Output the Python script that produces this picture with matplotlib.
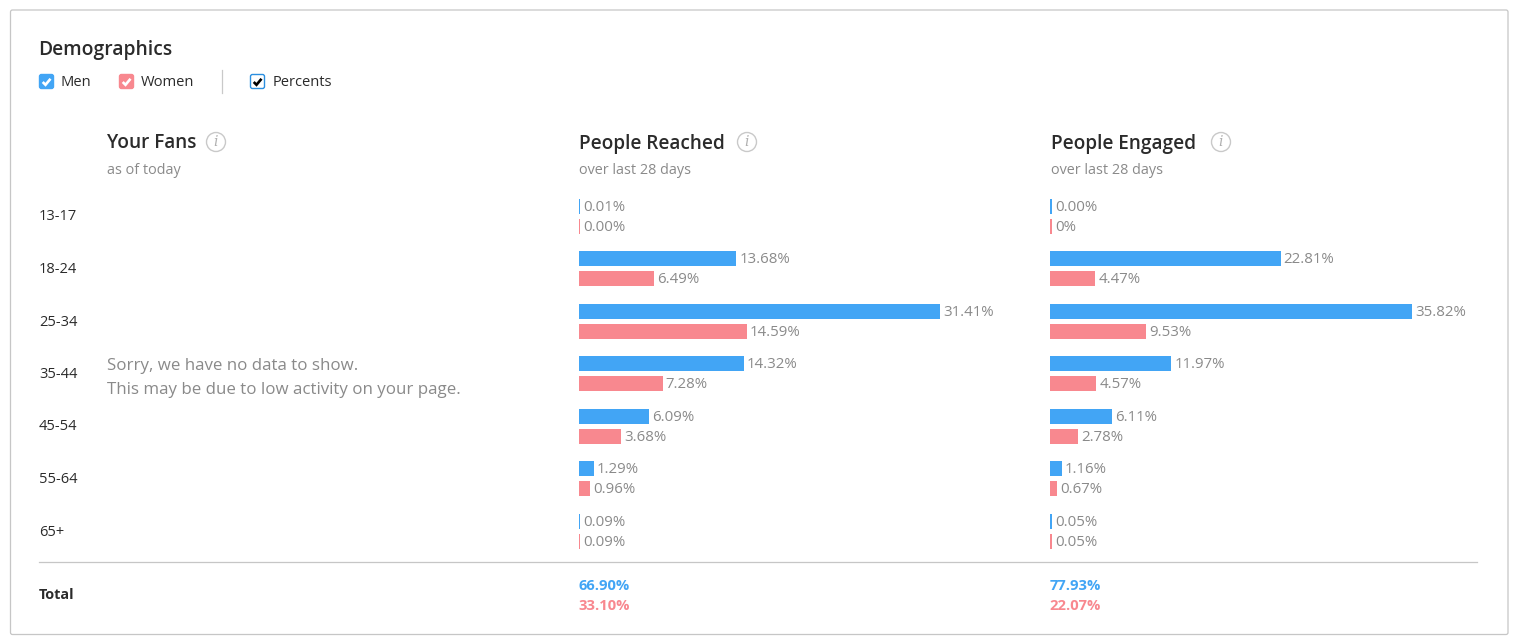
import matplotlib
matplotlib.use("Agg")
import matplotlib.pyplot as plt
from matplotlib.patches import FancyBboxPatch, Circle

plt.rcParams['font.family'] = ['Open Sans', 'DejaVu Sans']

age_groups = ['13-17', '18-24', '25-34', '35-44', '45-54', '55-64', '65+']
reached_men = [0.01, 13.68, 31.41, 14.32, 6.09, 1.29, 0.09]
reached_women = [0.00, 6.49, 14.59, 7.28, 3.68, 0.96, 0.09]
reached_men_labels = ['0.01%', '13.68%', '31.41%', '14.32%', '6.09%', '1.29%', '0.09%']
reached_women_labels = ['0.00%', '6.49%', '14.59%', '7.28%', '3.68%', '0.96%', '0.09%']
engaged_men = [0.00, 22.81, 35.82, 11.97, 6.11, 1.16, 0.05]
engaged_women = [0.00, 4.47, 9.53, 4.57, 2.78, 0.67, 0.05]
engaged_men_labels = ['0.00%', '22.81%', '35.82%', '11.97%', '6.11%', '1.16%', '0.05%']
engaged_women_labels = ['0%', '4.47%', '9.53%', '4.57%', '2.78%', '0.67%', '0.05%']
reached_totals = ['66.90%', '33.10%']
engaged_totals = ['77.93%', '22.07%']

BLUE = '#42a5f5'
PINK = '#f8888f'
DARK = '#2b2b2b'
GREY = '#8a8a8a'
W, H = 1516, 643

fig = plt.figure(figsize=(W / 100, H / 100), dpi=100, facecolor='white')
ov = fig.add_axes([0, 0, 1, 1])
ov.set_xlim(0, W)
ov.set_ylim(H, 0)
ov.axis('off')

ov.add_patch(FancyBboxPatch((10.5, 10), 1497.5, 624.5, boxstyle='round,pad=0,rounding_size=2',
                            fc='white', ec='#c6c6c6', lw=0.9))


def txt(x, y, s, size=10.5, color=DARK, weight='normal', **kw):
    return ov.text(x, y, s, fontsize=size, color=color, fontweight=weight, va='center', ha='left', **kw)


def checkbox(x, y, face, edge, tick):
    ov.add_patch(FancyBboxPatch((x, y), 14, 14, boxstyle='round,pad=0,rounding_size=2',
                                fc=face, ec=edge, lw=1))
    ov.plot([x + 3.2, x + 6, x + 11], [y + 7.5, y + 10.3, y + 4.3], color=tick, lw=1.9,
            solid_capstyle='butt', solid_joinstyle='miter')


def info(x, y):
    ov.add_patch(Circle((x, y), 9.5, fc='white', ec='#c9c9c9', lw=1))
    ov.text(x, y, 'i', fontsize=10, color='#b0b0b0', style='italic', family='DejaVu Serif',
            ha='center', va='center')


txt(38.5, 49.5, 'Demographics', 13.9, weight='semibold')
checkbox(39.5, 74.5, BLUE, BLUE, 'white')
txt(61, 82, 'Men', 10.6)
checkbox(119.5, 74.5, PINK, PINK, 'white')
txt(141, 82, 'Women', 10.6)
ov.plot([221.5, 221.5], [70, 93], color='#c9c9c9', lw=0.9)
checkbox(250.5, 74.5, 'white', '#2b8fe0', 'black')
txt(273, 82, 'Percents', 10.5)

headers = [(107, 'Your Fans', 'as of today', 216), (579, 'People Reached', 'over last 28 days', 747),
           (1051, 'People Engaged', 'over last 28 days', 1221)]
for x, title, sub, ix in headers:
    txt(x, 143.5, title, 13.7, weight='semibold')
    txt(x, 170.5, sub, 10.4, GREY)
    info(ix, 142)

txt(107, 366, 'Sorry, we have no data to show.', 12.15, GREY)
txt(107, 390.5, 'This may be due to low activity on your page.', 12.15, GREY)

ROW = 52.5
TOP = 180.0  # pixel top of the bar axes
BOTTOM = 560.0
for i, age in enumerate(age_groups):
    txt(39, 217 + i * ROW, age, 10.5)

ov.plot([39, 1477], [562, 562], color='#c6c6c6', lw=0.9)
txt(39, 595, 'Total', 10.4, weight='bold')


def panel(x0, men, women, men_lab, women_lab, totals, min_w, width):
    ax = fig.add_axes([x0 / W, 1 - BOTTOM / H, 440 / W, (BOTTOM - TOP) / H])
    scale = width / max(men + women)
    ax.set_xlim(0, 440 / scale)
    # y in row units: row i is centred midway between its two bars
    ax.set_ylim((BOTTOM - 216) / ROW, (TOP - 216) / ROW)
    ax.axis('off')
    ax.patch.set_alpha(0)
    h = 15 / ROW
    off = 10 / ROW
    for series, labels, color, sign in ((men, men_lab, BLUE, -1), (women, women_lab, PINK, 1)):
        for i, (v, lab) in enumerate(zip(series, labels)):
            w = max(v, min_w / scale)
            ax.barh(i + sign * off, w, height=h, color=color, lw=0)
            ax.annotate(lab, (w, i + sign * off), xytext=(2.3, -1.0), textcoords='offset points',
                        fontsize=10.8, color=GREY, va='center', ha='left')
    txt(x0 - 0.5, 586, totals[0], 10.6, BLUE, 'bold')
    txt(x0 - 0.5, 606, totals[1], 10.6, PINK, 'bold')


panel(579, reached_men, reached_women, reached_men_labels, reached_women_labels, reached_totals, 1, 361)
panel(1050, engaged_men, engaged_women, engaged_men_labels, engaged_women_labels, engaged_totals, 2, 362)

fig.savefig('out.png', dpi=100, facecolor='white')
